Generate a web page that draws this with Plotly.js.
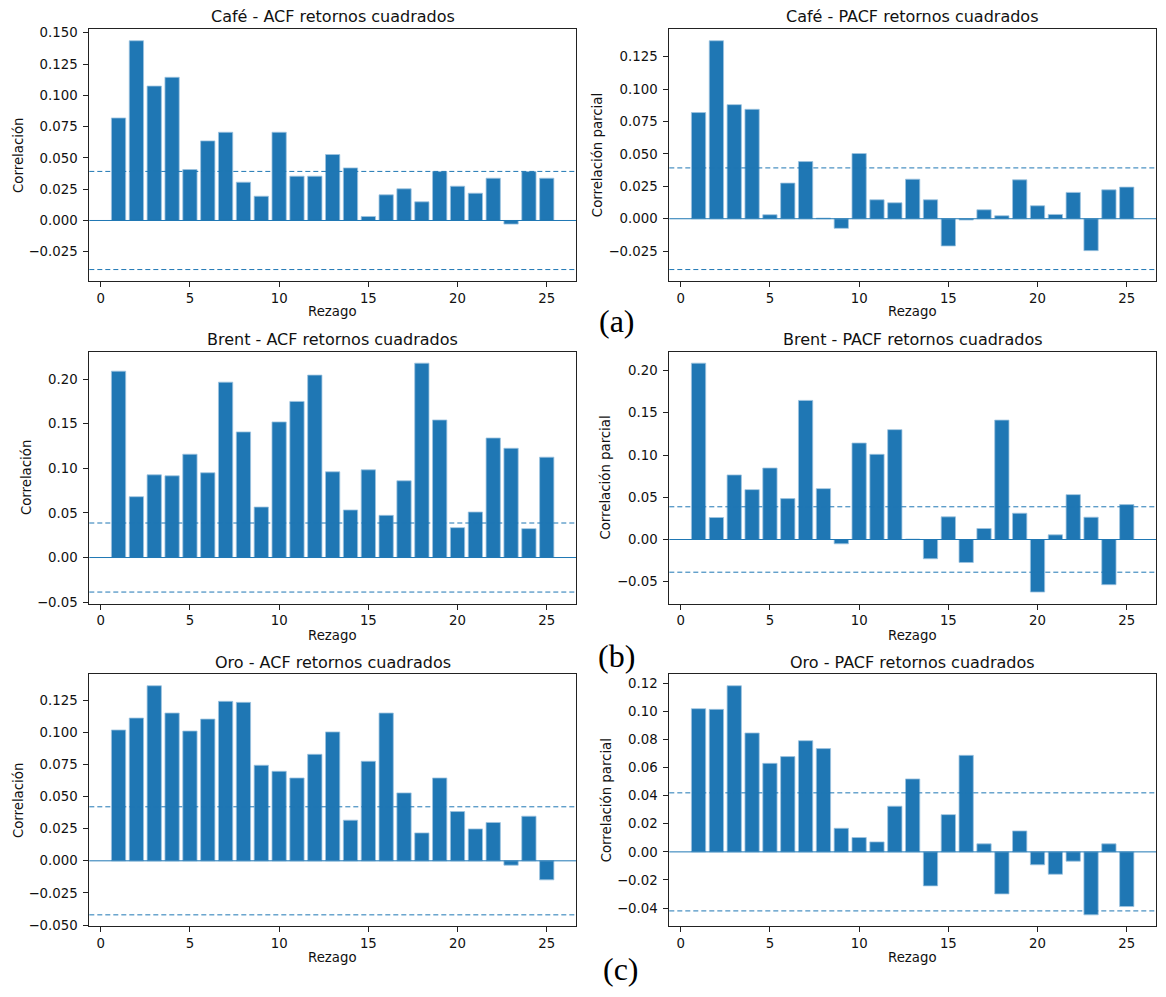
<!DOCTYPE html>
<html>
<head>
<meta charset="utf-8">
<script src="https://cdn.plot.ly/plotly-3.0.1.min.js"></script>
<style>html,body{margin:0;padding:0;background:#fff;}#chart{width:1166px;height:997px;}</style>
</head>
<body>
<div id="chart"></div>
<script>
const lags = [1,2,3,4,5,6,7,8,9,10,11,12,13,14,15,16,17,18,19,20,21,22,23,24,25];
const xTicks = [0,5,10,15,20,25];

const cafeACF  = [0.0819,0.1436,0.1074,0.1144,0.0407,0.0636,0.0705,0.0306,0.0194,0.0705,0.0354,0.0354,0.0527,0.0420,0.0032,0.0205,0.0253,0.0149,0.0391,0.0274,0.0218,0.0338,-0.0029,0.0391,0.0338];
const cafePACF = [0.0819,0.1373,0.0880,0.0844,0.0031,0.0275,0.0441,0.0005,-0.0074,0.0503,0.0146,0.0123,0.0305,0.0146,-0.0210,-0.0010,0.0069,0.0023,0.0300,0.0100,0.0033,0.0203,-0.0246,0.0223,0.0244];
const brentACF = [0.2089,0.0682,0.0927,0.0916,0.1158,0.0950,0.1966,0.1408,0.0566,0.1520,0.1750,0.2045,0.0961,0.0533,0.0983,0.0473,0.0860,0.2179,0.1542,0.0335,0.0510,0.1340,0.1225,0.0324,0.1125];
const brentPACF= [0.2087,0.0260,0.0764,0.0590,0.0846,0.0484,0.1646,0.0602,-0.0051,0.1142,0.1008,0.1300,0.0005,-0.0228,0.0268,-0.0272,0.0130,0.1413,0.0311,-0.0622,0.0055,0.0531,0.0264,-0.0535,0.0413];
const oroACF   = [0.1017,0.1110,0.1361,0.1149,0.1009,0.1102,0.1240,0.1232,0.0743,0.0696,0.0644,0.0828,0.1002,0.0316,0.0774,0.1149,0.0528,0.0217,0.0644,0.0383,0.0248,0.0298,-0.0034,0.0347,-0.0148];
const oroPACF  = [0.1019,0.1014,0.1182,0.0846,0.0630,0.0678,0.0791,0.0735,0.0168,0.0102,0.0071,0.0325,0.0519,-0.0242,0.0265,0.0687,0.0057,-0.0299,0.0149,-0.0092,-0.0159,-0.0066,-0.0448,0.0057,-0.0389];

const confCafe = 0.0392;
const confBrent = 0.0387;
const confOro = 0.0420;

const titles = ["Café - ACF retornos cuadrados","Café - PACF retornos cuadrados",
                "Brent - ACF retornos cuadrados","Brent - PACF retornos cuadrados",
                "Oro - ACF retornos cuadrados","Oro - PACF retornos cuadrados"];
const yLabels = ["Correlación","Correlación parcial","Correlación","Correlación parcial","Correlación","Correlación parcial"];
const xLabel = "Rezago";
const panelLetters = ["(a)","(b)","(c)"];

const W = 1166, H = 997;
const panels = [
  {vals: cafeACF,  conf: confCafe,  dt: 0.025, fmt: '.3f'},
  {vals: cafePACF, conf: confCafe,  dt: 0.025, fmt: '.3f'},
  {vals: brentACF, conf: confBrent, dt: 0.05,  fmt: '.2f'},
  {vals: brentPACF,conf: confBrent, dt: 0.05,  fmt: '.2f'},
  {vals: oroACF,   conf: confOro,   dt: 0.025, fmt: '.3f'},
  {vals: oroPACF,  conf: confOro,   dt: 0.02,  fmt: '.2f'}
];
// pixel boxes
const colX = [[89.3, 576], [669.3, 1156]];
const rowY = [[29.3, 281], [351.7, 603.5], [674.3, 926.3]];
const titleY = [16.7, 340, 662.7];
const xlabY = [311, 635, 957];
const ylabX = [[17.8, 597], [26.5, 606], [17.8, 606]];
const letterPos = [[617, 321], [616, 656], [621, 969]];

const px = v => v / W;
const py = v => 1 - v / H;

const font = {family: 'DejaVu Sans, Verdana, sans-serif', color: '#111'};
const blue = '#1f77b4';

const data = [];
const layout = {
  width: W, height: H,
  margin: {l: 0, r: 0, t: 0, b: 0},
  paper_bgcolor: '#fff', plot_bgcolor: '#fff',
  showlegend: false,
  font: Object.assign({size: 13.3}, font),
  shapes: [], annotations: [],
  bargap: 0
};

panels.forEach((p, i) => {
  const r = Math.floor(i / 2), c = i % 2;
  const ax = i === 0 ? '' : String(i + 1);
  const xa = 'x' + ax, ya = 'y' + ax;
  data.push({
    type: 'bar', x: lags, y: p.vals, width: 0.8,
    xaxis: xa, yaxis: ya,
    marker: {color: blue, line: {color: '#9ec4e0', width: 0.8}},
    hoverinfo: 'x+y'
  });
  const lo = Math.min(Math.min(...p.vals), -p.conf);
  const hi = Math.max(Math.max(...p.vals), p.conf);
  const m = (hi - lo) * 0.05;
  const axisCommon = {
    showline: true, mirror: true, linecolor: '#222', linewidth: 1,
    ticks: 'outside', ticklen: 5, tickwidth: 1, tickcolor: '#222',
    showgrid: false, zeroline: false,
    tickfont: Object.assign({size: 13.3}, font)
  };
  layout['xaxis' + ax] = Object.assign({}, axisCommon, {
    domain: [px(colX[c][0]), px(colX[c][1])],
    anchor: ya, range: [-0.64, 26.64],
    tickvals: xTicks, ticktext: xTicks.map(String)
  });
  layout['yaxis' + ax] = Object.assign({}, axisCommon, {
    domain: [py(rowY[r][1]), py(rowY[r][0])],
    anchor: xa, range: [lo - m, hi + m],
    dtick: p.dt, tick0: 0, tickformat: p.fmt,
    ticklabelstandoff: 3
  });
  const xd = xa + ' domain';
  layout.shapes.push({type: 'line', xref: xd, yref: ya, x0: 0, x1: 1, y0: 0, y1: 0,
    line: {color: blue, width: 1}, layer: 'above'});
  [p.conf, -p.conf].forEach(v => layout.shapes.push({type: 'line', xref: xd, yref: ya, x0: 0, x1: 1, y0: v, y1: v,
    line: {color: blue, width: 1, dash: '5px,3px'}, layer: 'above'}));
  const cx = (colX[c][0] + colX[c][1]) / 2;
  layout.annotations.push({text: titles[i], xref: 'paper', yref: 'paper', x: px(cx), y: py(titleY[r]),
    xanchor: 'center', yanchor: 'middle', showarrow: false, font: Object.assign({}, font, {size: 16})});
  layout.annotations.push({text: xLabel, xref: 'paper', yref: 'paper', x: px(cx), y: py(xlabY[r]),
    xanchor: 'center', yanchor: 'middle', showarrow: false, font: Object.assign({}, font, {size: 13.3})});
  const cy = (rowY[r][0] + rowY[r][1]) / 2;
  layout.annotations.push({text: yLabels[i], xref: 'paper', yref: 'paper', x: px(ylabX[r][c]), y: py(cy),
    xanchor: 'center', yanchor: 'middle', textangle: -90, showarrow: false, font: Object.assign({}, font, {size: 13.3})});
});

panelLetters.forEach((t, k) => {
  layout.annotations.push({text: t, xref: 'paper', yref: 'paper', x: px(letterPos[k][0]), y: py(letterPos[k][1]),
    xanchor: 'center', yanchor: 'middle', showarrow: false,
    font: {family: 'Liberation Serif, Times New Roman, serif', size: 32, color: '#000'}});
});

Plotly.newPlot('chart', data, layout, {displayModeBar: false, staticPlot: true});
</script>
</body>
</html>
